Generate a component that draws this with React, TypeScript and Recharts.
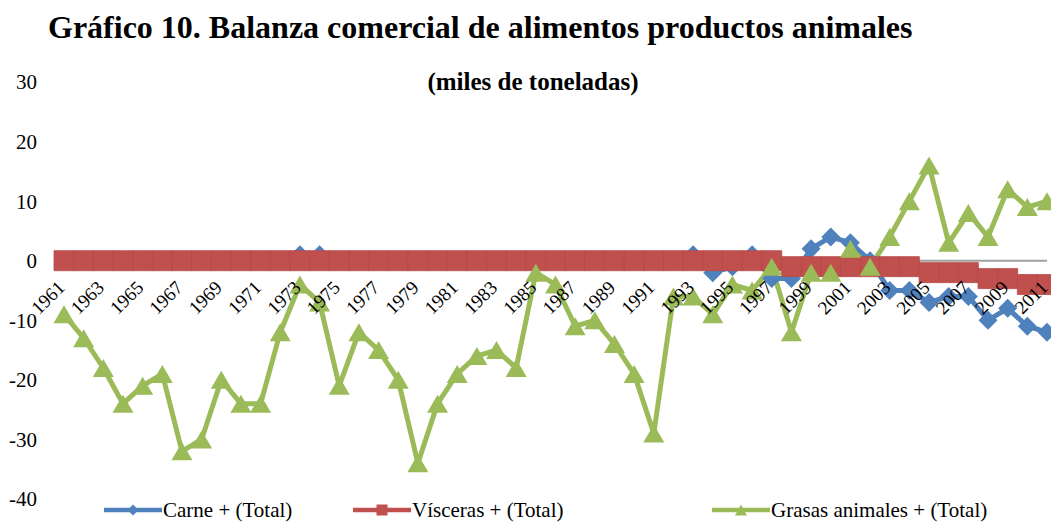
import React from "react";
import { LineChart, Line, XAxis, YAxis, ReferenceLine } from "recharts";

const years = [
  "1961", "1962", "1963", "1964", "1965", "1966", "1967", "1968", "1969", "1970",
  "1971", "1972", "1973", "1974", "1975", "1976", "1977", "1978", "1979", "1980",
  "1981", "1982", "1983", "1984", "1985", "1986", "1987", "1988", "1989", "1990",
  "1991", "1992", "1993", "1994", "1995", "1996", "1997", "1998", "1999", "2000",
  "2001", "2002", "2003", "2004", "2005", "2006", "2007", "2008", "2009", "2010",
  "2011",
];

const carne = [
  0, 0, 0, 0, 0, 0, 0, 0, 0, 0,
  0, 0, 1, 1, 0, 0, 0, 0, 0, 0,
  0, 0, 0, 0, 0, 0, 0, 0, 0, 0,
  0, 0, 1, -2, -1, 1, -3, -3, 2, 4,
  3, 0, -5, -5, -7, -6, -6, -10, -8, -11,
  -12,
];

const visceras = [
  0, 0, 0, 0, 0, 0, 0, 0, 0, 0,
  0, 0, 0, 0, 0, 0, 0, 0, 0, 0,
  0, 0, 0, 0, 0, 0, 0, 0, 0, 0,
  0, 0, 0, 0, 0, 0, 0, -1, -1, -1,
  -1, -1, -1, -1, -2, -2, -2, -3, -3, -4,
  -4,
];

const grasas = [
  -9, -13, -18, -24, -21, -19, -32, -30, -20, -24,
  -24, -12, -4, -7, -21, -12, -15, -20, -34, -24,
  -19, -16, -15, -18, -2, -4, -11, -10, -14, -19,
  -29, -6, -6, -9, -4, -5, -1, -12, -2, -2,
  2, -1, 4, 10, 16, 3, 8, 4, 12, 9,
  10,
];

const yTicks = [-40, -30, -20, -10, 0, 10, 20, 30];

const BLUE = "#4F81BD";
const RED = "#C0504D";
const GREEN = "#9BBB59";
const FONT = "'Liberation Serif', 'Times New Roman', serif";

const W = 1051;
const H = 523;
const TOP = 82;
const BOTTOM = 23;
const XAXIS_H = 1;
const PLOT_H = H - TOP - BOTTOM - XAXIS_H;
const Y_MIN = -40;
const Y_MAX = 30;
// pixel row of the value 0, where the category labels sit
const ZERO_Y = TOP + (PLOT_H * Y_MAX) / (Y_MAX - Y_MIN);

const data = years.map((y, i) => ({
  year: y,
  carne: carne[i],
  visceras: visceras[i],
  grasas: grasas[i],
}));

const diamond = (cx: number, cy: number, r: number) =>
  `M${cx},${cy - r}L${cx + r},${cy}L${cx},${cy + r}L${cx - r},${cy}Z`;
const square = (cx: number, cy: number, r: number) =>
  `M${cx - r},${cy - r}h${2 * r}v${2 * r}h${-2 * r}Z`;
const triangle = (cx: number, cy: number, w: number, h: number) =>
  `M${cx},${cy - h / 2}L${cx + w / 2},${cy + h / 2}L${cx - w / 2},${cy + h / 2}Z`;

const DiamondDot = (p: any) => (
  <path key={`d-${p.index}`} d={diamond(p.cx, p.cy, 9.5)} fill={BLUE} />
);
const SquareDot = (p: any) => (
  <path
    key={`s-${p.index}`}
    d={square(p.cx, p.cy, 10)}
    fill={RED}
    stroke="#B8494A"
    strokeWidth={0.8}
  />
);
const TriangleDot = (p: any) => (
  <path key={`t-${p.index}`} d={triangle(p.cx, p.cy, 21, 18)} fill={GREEN} />
);

const YearTick = (props: any) => {
  const { x, payload } = props;
  const tx = Number(x) + 2;
  const ty = ZERO_Y + 28;
  return (
    <g>
      <text
        x={tx}
        y={ty}
        transform={`rotate(-45 ${tx} ${ty})`}
        textAnchor="end"
        fontSize={19}
        fontFamily={FONT}
        fill="#000"
      >
        {payload.value}
      </text>
    </g>
  );
};

const legendItems = [
  { name: "Carne + (Total)", color: BLUE, left: 103, mark: "d" },
  { name: "Vísceras + (Total)", color: RED, left: 352, mark: "s" },
  { name: "Grasas animales + (Total)", color: GREEN, left: 711, mark: "t" },
];

const LegendIcon = ({ color, mark }: { color: string; mark: string }) => (
  <svg width={60} height={14} style={{ display: "block" }}>
    <line x1={1} y1={7} x2={59} y2={7} stroke={color} strokeWidth={4.5} />
    {mark === "d" && <path d={diamond(30, 7, 5.5)} fill={color} />}
    {mark === "s" && <path d={square(30, 7, 5.5)} fill={color} />}
    {mark === "t" && <path d={triangle(30, 7, 12, 11)} fill={color} />}
  </svg>
);

export default function App() {
  return (
    <div
      style={{
        position: "absolute",
        left: 0,
        top: 0,
        width: W,
        height: H,
        background: "#fff",
        fontFamily: FONT,
        overflow: "hidden",
      }}
    >
      <div
        style={{
          position: "absolute",
          left: 48,
          top: 11,
          fontSize: 32,
          lineHeight: 1,
          fontWeight: "bold",
          whiteSpace: "nowrap",
        }}
      >
        Gráfico 10. Balanza comercial de alimentos productos animales
      </div>
      <div
        style={{
          position: "absolute",
          left: 333,
          width: 400,
          top: 69,
          fontSize: 25,
          lineHeight: 1,
          fontWeight: "bold",
          textAlign: "center",
          whiteSpace: "nowrap",
        }}
      >
        (miles de toneladas)
      </div>
      <div style={{ position: "absolute", left: 0, top: 0 }}>
        <LineChart
          width={W}
          height={H}
          data={data}
          margin={{ top: TOP, right: 4, bottom: BOTTOM, left: 0 }}
        >
          <ReferenceLine y={0} stroke="#A0A0A0" strokeWidth={2} />
          <XAxis
            dataKey="year"
            interval={1}
            axisLine={false}
            tickLine={false}
            tickSize={0}
            tickMargin={0}
            height={XAXIS_H}
            tick={YearTick}
          />
          <YAxis
            domain={[Y_MIN, Y_MAX]}
            ticks={yTicks}
            width={64}
            axisLine={false}
            tickLine={false}
            tickSize={0}
            tickMargin={27}
            tick={{ fontSize: 21, fontFamily: FONT, fill: "#000" }}
          />
          <Line
            dataKey="carne"
            stroke={BLUE}
            strokeWidth={5}
            dot={DiamondDot}
            activeDot={false}
            isAnimationActive={false}
          />
          <Line
            dataKey="visceras"
            stroke={RED}
            strokeWidth={5}
            dot={SquareDot}
            activeDot={false}
            isAnimationActive={false}
          />
          <Line
            dataKey="grasas"
            stroke={GREEN}
            strokeWidth={5}
            dot={TriangleDot}
            activeDot={false}
            isAnimationActive={false}
          />
        </LineChart>
      </div>
      {legendItems.map((it) => (
        <div
          key={it.name}
          style={{
            position: "absolute",
            left: it.left,
            top: 498,
            display: "flex",
            alignItems: "center",
            fontSize: 21,
            lineHeight: "24px",
            whiteSpace: "nowrap",
          }}
        >
          <LegendIcon color={it.color} mark={it.mark} />
          <span>{it.name}</span>
        </div>
      ))}
    </div>
  );
}
